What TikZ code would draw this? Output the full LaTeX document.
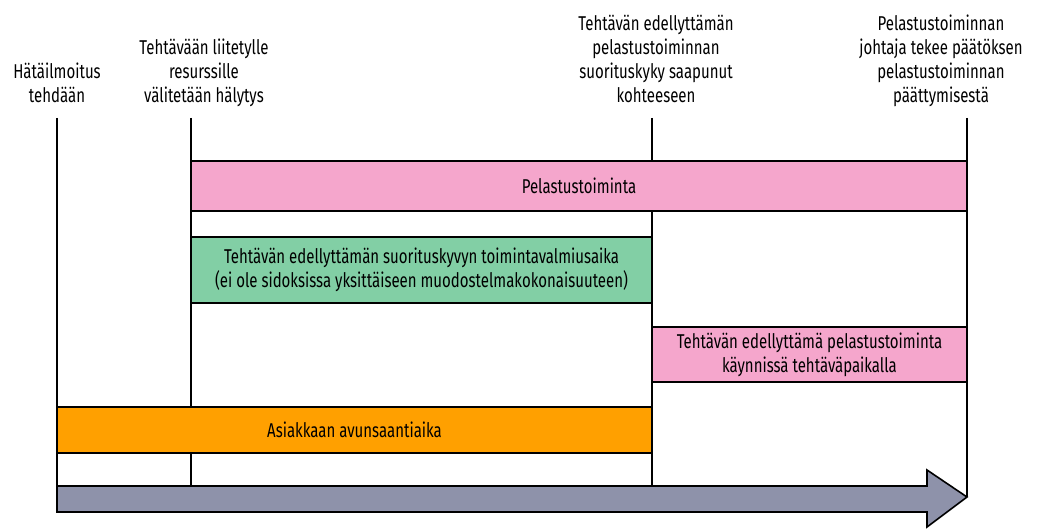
\documentclass[tikz,border=0pt]{standalone}
\usepackage{fontspec}
\setmainfont{Fira Sans}[FakeStretch=0.75]
\usetikzlibrary{positioning}
\definecolor{pinkbar}{RGB}{245,166,204}
\definecolor{greenbar}{RGB}{130,207,165}
\definecolor{orangebar}{RGB}{255,160,0}
\definecolor{arrowgrey}{RGB}{142,146,170}

\begin{document}
\begin{tikzpicture}[x=1pt, y=-1pt, font=\fontsize{20}{24}\selectfont]
    \tikzstyle{every node}=[inner sep=0pt]
    \tikzstyle{bar}=[draw=black, line width=1.6pt, align=center, minimum height=50pt]
    \tikzstyle{event}=[align=center, anchor=south, text depth=5pt]
    \tikzstyle{tick}=[draw=black, line width=1.6pt]

    \useasboundingbox (0,0) rectangle (1055,529);

% The time points and their texts above the lines.

    \coordinate (t1) at (57,118);
    \coordinate (t2) at (191,118);
    \coordinate (t3) at (652,118);
    \coordinate (t4) at (967,118);

    \node [event] (l1) at (57,108) {Hätäilmoitus\\tehdään};
    \node [event] (l2) at (204,108) {Tehtävään liitetylle\\resurssille\\välitetään hälytys};
    \node [event] (l3) at (656,108) {Tehtävän edellyttämän\\pelastustoiminnan\\suorituskyky saapunut\\kohteeseen};
    \node [event] (l4) at (941,108) {Pelastustoiminnan\\johtaja tekee päätöksen\\pelastustoiminnan\\päättymisestä};

    \draw [tick] (t1) -- (57,486);
    \draw [tick] (t2) -- (191,486);
    \draw [tick] (t3) -- (652,486);
    \draw [tick] (t4) -- (967,497);

% The bars between the time points.

    \node [bar, fill=pinkbar, minimum width=776pt, minimum height=50pt] (pelastus) at (579,186) {Pelastustoiminta};
    \node [bar, fill=greenbar, minimum width=461pt, minimum height=66pt] (valmius) at (421.5,270) {Tehtävän edellyttämän suorituskyvyn toimintavalmiusaika\\(ei ole sidoksissa yksittäiseen muodostelmakokonaisuuteen)};
    \node [bar, fill=pinkbar, minimum width=315pt, minimum height=55pt] (paikalla) at (809.5,354.5) {Tehtävän edellyttämä pelastustoiminta\\käynnissä tehtäväpaikalla};
    \node [bar, fill=orangebar, minimum width=595pt, minimum height=46pt] (avunsaanti) at (354.5,430) {Asiakkaan avunsaantiaika};

% The time axis.

    \draw [tick, fill=arrowgrey, line join=miter] (57,486) -- (927,486) -- (927,470) -- (967,497) -- (927,527) -- (927,512) -- (57,512) -- cycle;

\end{tikzpicture}
\end{document}
